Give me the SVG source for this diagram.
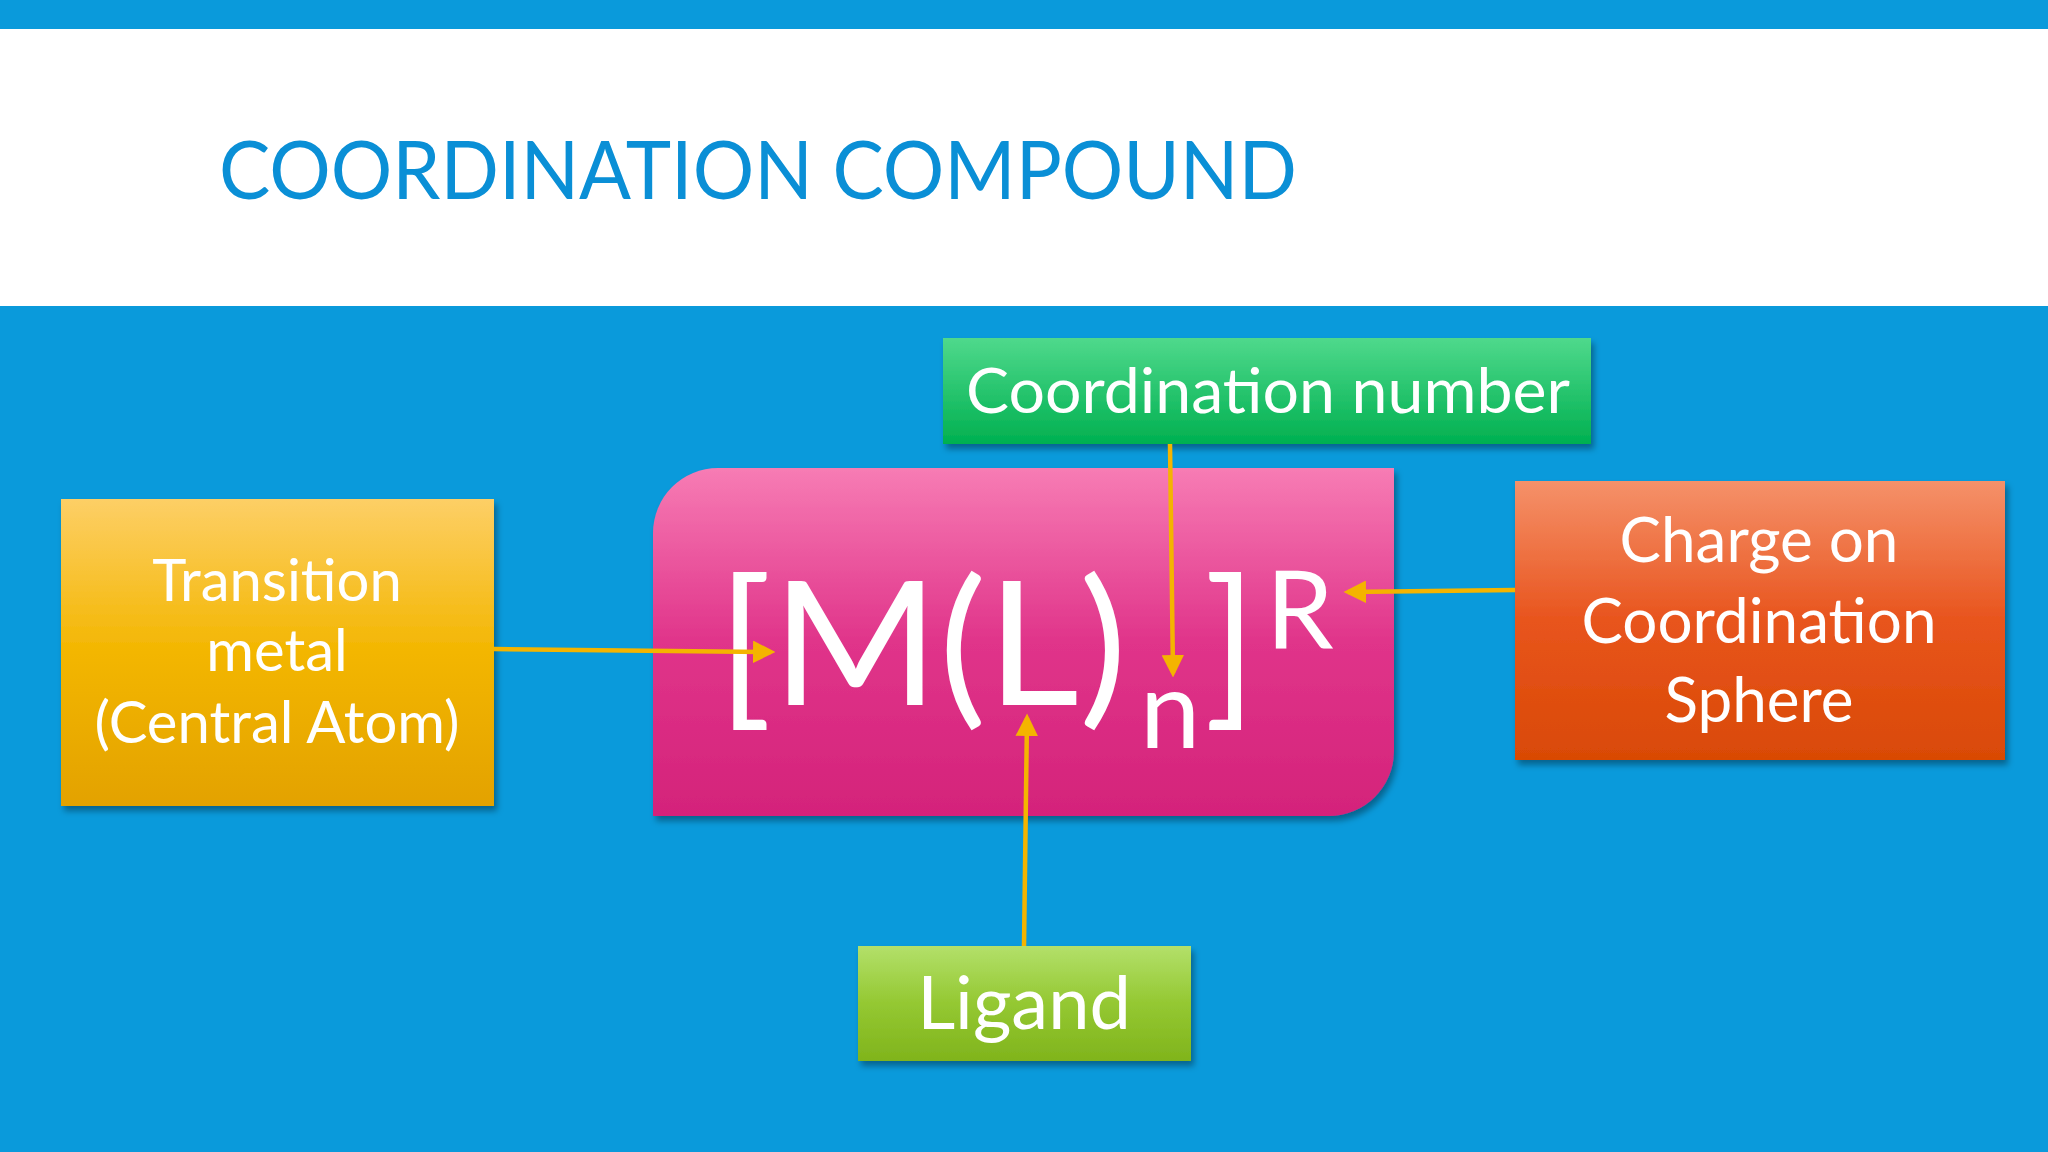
<svg xmlns="http://www.w3.org/2000/svg" width="2048" height="1152" viewBox="0 0 2048 1152">
<style>
.t{font-family:Lato,"Open Sans","Liberation Sans",sans-serif;fill:#fff;text-anchor:middle}
.c{stroke:#F4B400;stroke-width:4.5;fill:none;marker-end:url(#ah)}
</style>
<defs>
<marker id="ah" viewBox="0 0 10 10" refX="8" refY="5" markerWidth="5" markerHeight="5" orient="auto"><path d="M0,0L10,5L0,10z" fill="#F4B400"/></marker>
<linearGradient id="gy" x1="0" y1="0" x2="0" y2="1"><stop offset="0" stop-color="#FDCF66"/><stop offset="0.5" stop-color="#F3B600"/><stop offset="1" stop-color="#E3A200"/></linearGradient>
<linearGradient id="gg" x1="0" y1="0" x2="0" y2="1"><stop offset="0" stop-color="#4FD98C"/><stop offset="1" stop-color="#00B050"/></linearGradient>
<linearGradient id="gm" x1="0" y1="0" x2="0" y2="1"><stop offset="0" stop-color="#F77CB4"/><stop offset="0.5" stop-color="#E0348A"/><stop offset="1" stop-color="#D4237A"/></linearGradient>
<linearGradient id="go" x1="0" y1="0" x2="0" y2="1"><stop offset="0" stop-color="#F5916A"/><stop offset="0.5" stop-color="#E8541D"/><stop offset="1" stop-color="#D94A05"/></linearGradient>
<linearGradient id="gl" x1="0" y1="0" x2="0" y2="1"><stop offset="0" stop-color="#B3E06A"/><stop offset="0.5" stop-color="#94C832"/><stop offset="1" stop-color="#80B41C"/></linearGradient>
<filter id="sh" x="-5%" y="-5%" width="115%" height="120%"><feDropShadow dx="3" dy="5" stdDeviation="3" flood-color="#000" flood-opacity="0.35"/></filter>
</defs>
<rect width="2048" height="1152" fill="#0A9ADB"/>
<rect x="0" y="29" width="2048" height="277" fill="#fff"/>
<text x="219" y="199" font-family="Lato,'Open Sans','Liberation Sans',sans-serif" font-size="82" fill="#0A8FD6" textLength="1078" lengthAdjust="spacingAndGlyphs">COORDINATION COMPOUND</text>

<g id="formula">
<path d="M718,468H1394V751A65,65 0 0 1 1329,816H653V533A65,65 0 0 1 718,468Z" fill="url(#gm)" filter="url(#sh)"/>
<text x="717" y="705" class="t" style="text-anchor:start" font-size="172" textLength="410" lengthAdjust="spacingAndGlyphs">[M(L)</text>
<text x="1140" y="748" class="t" style="text-anchor:start" font-size="108">n</text>
<text x="1204" y="705" class="t" style="text-anchor:start" font-size="172">]</text>
<text x="1266" y="649" class="t" style="text-anchor:start" font-size="108">R</text>
</g>
<g id="coordnum">
<rect x="943" y="338" width="648" height="106" fill="url(#gg)" filter="url(#sh)"/>
<text x="1268" y="413" class="t" font-size="62" textLength="604" lengthAdjust="spacingAndGlyphs">Coordination number</text>
</g>
<g id="metal">
<rect x="61" y="499" width="433" height="307" fill="url(#gy)" filter="url(#sh)"/>
<text class="t" font-size="58"><tspan x="277" y="601">Transition</tspan><tspan x="277" y="671">metal</tspan><tspan x="277" y="743">(Central Atom)</tspan></text>
</g>
<g id="charge">
<rect x="1515" y="481" width="490" height="279" fill="url(#go)" filter="url(#sh)"/>
<text class="t" font-size="62"><tspan x="1759" y="562">Charge on</tspan><tspan x="1759" y="643">Coordination</tspan><tspan x="1759" y="722">Sphere</tspan></text>
</g>
<g id="ligand">
<rect x="858" y="946" width="333" height="115" fill="url(#gl)" filter="url(#sh)"/>
<text x="1024" y="1029" class="t" font-size="74">Ligand</text>
</g>
<g id="connectors">
<path class="c" d="M494,649L771,652"/>
<path class="c" d="M1170,444L1173,673"/>
<path class="c" d="M1515,590L1348,592"/>
<path class="c" d="M1024,946L1027,718"/>
</g>
</svg>
